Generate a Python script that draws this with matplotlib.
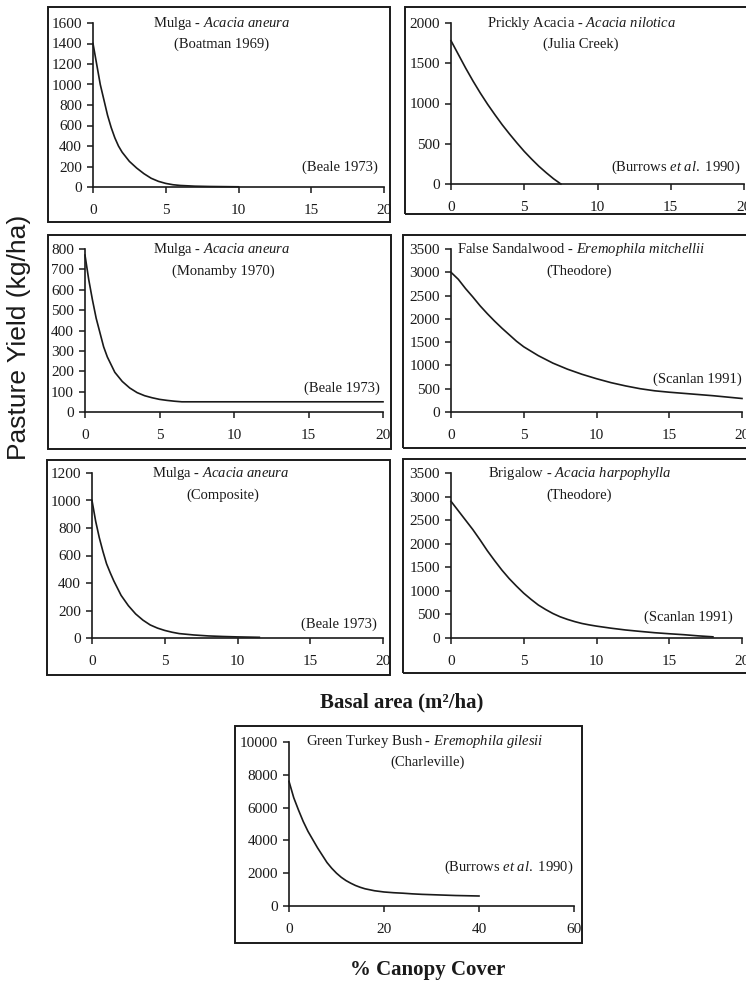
import matplotlib
matplotlib.use('Agg')
import matplotlib.pyplot as plt
from matplotlib.patches import Rectangle

W, H = 746, 981

# ---- data ----
boatman_x = [0, 0.25, 0.5, 0.75, 1, 1.25, 1.5, 1.75, 2, 2.5, 3, 3.5, 4, 4.5, 5, 5.5, 6, 7, 8, 10]
boatman_y = [1400, 1200, 1000, 850, 700, 580, 480, 400, 340, 250, 185, 130, 85, 55, 35, 22, 15, 8, 5, 2]

julia_x = [0, 0.5, 1, 1.5, 2, 2.5, 3, 3.5, 4, 4.5, 5, 5.5, 6, 6.5, 7, 7.5]
julia_y = [1780, 1610, 1440, 1280, 1130, 990, 860, 735, 620, 510, 405, 310, 220, 140, 65, 0]

monamby_x = [0, 0.25, 0.5, 0.75, 1, 1.25, 1.5, 2, 2.5, 3, 3.5, 4, 4.5, 5, 5.5, 6, 6.5, 10, 15, 20]
monamby_y = [770, 650, 550, 460, 390, 320, 270, 195, 150, 118, 95, 80, 70, 62, 57, 53, 50, 50, 50, 50]

sandal_x = [0, 0.5, 1, 1.5, 2, 2.5, 3, 3.5, 4, 4.5, 5, 6, 7, 8, 9, 10,
            11, 12, 13, 14, 15, 16, 17, 18, 19, 20]
sandal_y = [3000, 2850, 2650, 2470, 2280, 2110, 1950, 1800, 1660, 1520, 1400, 1210, 1050, 920, 810, 715,
            630, 560, 500, 455, 425, 400, 375, 350, 320, 290]

composite_x = [0, 0.25, 0.5, 0.75, 1, 1.25, 1.5, 2, 2.5, 3, 3.5, 4, 4.5, 5, 5.5, 6, 7, 8, 9, 10, 11.5]
composite_y = [1000, 850, 730, 630, 540, 475, 415, 310, 235, 175, 130, 95, 72, 55, 42, 32, 22, 15, 11, 8, 5]

brigalow_x = [0, 0.5, 1, 1.5, 2, 2.5, 3, 3.5, 4, 4.5, 5, 5.5, 6, 6.5, 7, 7.5, 8, 8.5, 9, 9.5,
              10, 11, 12, 13, 14, 15, 16, 17, 18]
brigalow_y = [2900, 2700, 2500, 2300, 2080, 1850, 1640, 1440, 1260, 1100, 950, 820, 700, 605, 520, 450, 395, 348, 308, 278,
              252, 208, 170, 140, 112, 90, 70, 45, 25]

turkey_x = [0, 1, 2, 3, 4, 5, 6, 7, 8, 9, 10, 11, 12, 13, 14, 15, 16, 18, 20,
            22, 24, 26, 28, 30, 32, 35, 40]
turkey_y = [7600, 6600, 5850, 5150, 4550, 4050, 3550, 3100, 2650, 2300, 2000, 1750, 1550, 1390, 1250, 1140, 1050, 930, 855,
            810, 780, 740, 710, 690, 670, 640, 610]

plt.rcParams['font.family'] = ['Liberation Serif', 'DejaVu Serif']
plt.rcParams['mathtext.fontset'] = 'custom'
plt.rcParams['mathtext.rm'] = 'Liberation Serif'
plt.rcParams['mathtext.it'] = 'Liberation Serif:italic'

fig = plt.figure(figsize=(W / 100, H / 100), dpi=100)
ink = '#1a1a1a'


def px_axes(left, right, top, bottom):
    return fig.add_axes([left / W, 1 - bottom / H, (right - left) / W, (bottom - top) / H])


def px_box(x0, y0, x1, y1):
    fig.patches.append(Rectangle((x0 / W, 1 - y1 / H), (x1 - x0) / W, (y1 - y0) / H,
                                 transform=fig.transFigure, fill=False,
                                 edgecolor=ink, lw=1.4, zorder=6))


def white(x0, y0, x1, y1):
    fig.patches.append(Rectangle((x0 / W, 1 - y1 / H), (x1 - x0) / W, (y1 - y0) / H,
                                 transform=fig.transFigure, facecolor='white',
                                 edgecolor='none', zorder=5))


def fig_text(x, y, s, **kw):
    fig.text(x / W, 1 - y / H, s, color=ink, **kw)


def panel(ax_px, xs, ys, xmax, xstep, ymax, ystep):
    ax = px_axes(*ax_px)
    ax.plot(xs, ys, color=ink, lw=1.2, clip_on=False)
    ax.set_xlim(0, xmax)
    ax.set_ylim(0, ymax)
    ax.set_xticks(range(0, xmax + 1, xstep))
    ax.set_yticks(range(0, ymax + 1, ystep))
    for s in ['top', 'right']:
        ax.spines[s].set_visible(False)
    for s in ['left', 'bottom']:
        ax.spines[s].set_color(ink)
        ax.spines[s].set_linewidth(1.2)
    ax.tick_params(direction='out', length=4, width=1.1, colors=ink,
                   labelsize=11, pad=4)
    ax.tick_params(axis='x', pad=8)
    ax.patch.set_visible(False)
    return ax


panels = [
    ((93, 384, 23, 187), boatman_x, boatman_y, 20, 5, 1600, 200,
     r'Mulga - $\mathit{Acacia\ aneura}$', '(Boatman 1969)', '(Beale 1973)',
     (222, 23), (222, 44), (378, 167)),
    ((451, 744, 23, 184), julia_x, julia_y, 20, 5, 2000, 500,
     r'Prickly Acacia - $\mathit{Acacia\ nilotica}$', '(Julia Creek)',
     r'(Burrows $\mathit{et\ al.}$ 1990)',
     (581, 23), (581, 44), (740, 167)),
    ((85, 383, 249, 412), monamby_x, monamby_y, 20, 5, 800, 100,
     r'Mulga - $\mathit{Acacia\ aneura}$', '(Monamby 1970)', '(Beale 1973)',
     (222, 249), (223, 271), (380, 388)),
    ((451, 742, 249, 412), sandal_x, sandal_y, 20, 5, 3500, 500,
     r'False Sandalwood - $\mathit{Eremophila\ mitchellii}$', '(Theodore)',
     '(Scanlan 1991)',
     (581, 249), (579, 271), (742, 379)),
    ((92, 383, 473, 638), composite_x, composite_y, 20, 5, 1200, 200,
     r'Mulga - $\mathit{Acacia\ aneura}$', '(Composite)', '(Beale 1973)',
     (221, 473), (223, 495), (377, 624)),
    ((451, 742, 473, 638), brigalow_x, brigalow_y, 20, 5, 3500, 500,
     r'Brigalow - $\mathit{Acacia\ harpophylla}$', '(Theodore)', '(Scanlan 1991)',
     (580, 473), (579, 495), (733, 617)),
    ((289, 574, 742, 906), turkey_x, turkey_y, 60, 20, 10000, 2000,
     r'Green Turkey Bush - $\mathit{Eremophila\ gilesii}$', '(Charleville)',
     r'(Burrows $\mathit{et\ al.}$ 1990)',
     (425, 742), (428, 762), (573, 867)),
]

for (ax_px, xs, ys, xmax, xstep, ymax, ystep, l1, l2, src, p1, p2, p3) in panels:
    panel(ax_px, xs, ys, xmax, xstep, ymax, ystep)
    fig_text(p1[0], p1[1], l1, ha='center', va='center', fontsize=10.5)
    fig_text(p2[0], p2[1], l2, ha='center', va='center', fontsize=10.5)
    fig_text(p3[0], p3[1], src, ha='right', va='center', fontsize=10.5)

# strips that cut the labels at the box edges, as in the scan
white(391, 0, 402, 690)
white(583, 720, 620, 950)

# frames around the panels
px_box(48, 7, 390, 222)
px_box(405, 7, 760, 214)
px_box(48, 235, 391, 449)
px_box(403, 235, 760, 448)
px_box(47, 460, 390, 675)
px_box(403, 459, 760, 673)
px_box(235, 726, 582, 943)

fig_text(402, 702, 'Basal area (m²/ha)', ha='center', va='center',
         fontsize=15, fontweight='bold')
fig_text(428, 970, '% Canopy Cover', ha='center', va='center',
         fontsize=15, fontweight='bold')
fig.text(19 / W, 1 - 337 / H, 'Pasture Yield (kg/ha)', rotation=90,
         ha='center', va='center', fontsize=19, color=ink,
         family=['Liberation Sans', 'DejaVu Sans'])

fig.savefig('out.png', dpi=100)
